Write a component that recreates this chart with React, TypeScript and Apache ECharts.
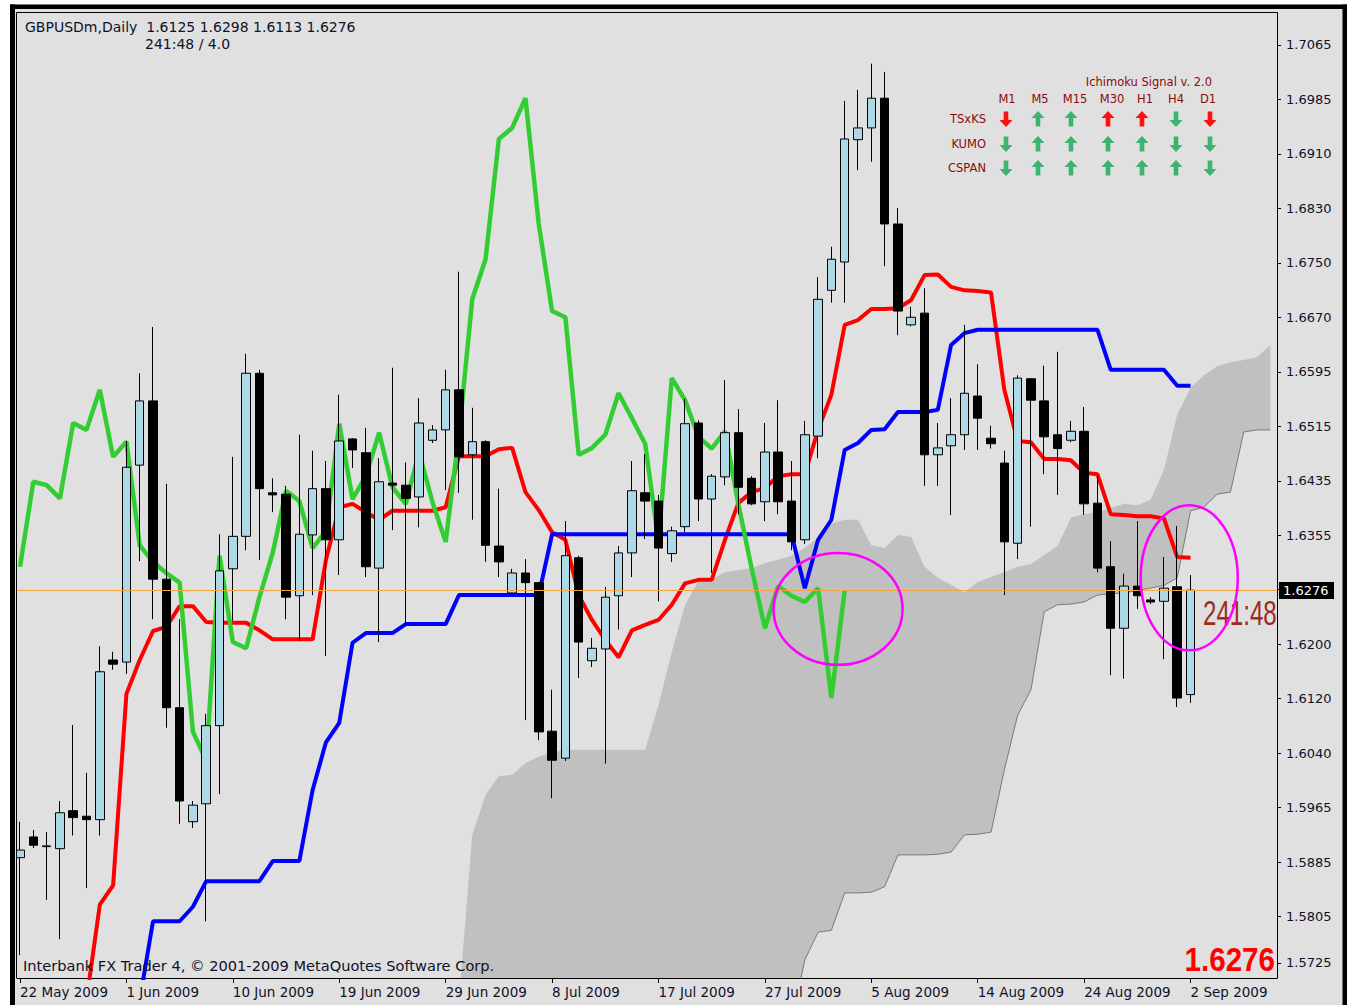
import React, { useEffect, useRef } from 'react';
import * as echarts from 'echarts';

const BAR_COUNT = 95; // 89 traded days + 6 projected cloud days

// Daily candles, 22 May 2009 .. 2 Sep 2009
const opens = [1.5889,1.5919,1.5906,1.5902,1.5957,1.5949,1.5944,1.6175,1.6172,1.6457,
1.6550,1.6292,1.6106,1.5941,1.5967,1.6080,1.6307,1.6354,1.6590,1.6417,
1.6415,1.6268,1.6356,1.6423,1.6349,1.6495,1.6475,1.6308,1.6431,1.6428,
1.6411,1.6493,1.6508,1.6566,1.6472,1.6491,1.6340,1.6272,1.6301,1.6287,
1.6072,1.6033,1.6323,1.6174,1.6191,1.6268,1.6330,1.6417,1.6405,1.6329,
1.6368,1.6518,1.6408,1.6440,1.6504,1.6438,1.6404,1.6476,1.6405,1.6349,
1.6499,1.6710,1.6751,1.6928,1.6945,1.6988,1.6806,1.6660,1.6677,1.6472,
1.6485,1.6501,1.6557,1.6496,1.6460,1.6344,1.6582,1.6550,1.6501,1.6493,
1.6506,1.6402,1.6310,1.6221,1.6282,1.6262,1.6260,1.6281,1.6125];
const highs = [1.5941,1.5929,1.5926,1.5971,1.6081,1.6012,1.6195,1.6187,1.6492,1.6590,
1.6657,1.6430,1.6234,1.5971,1.6097,1.6357,1.6469,1.6618,1.6595,1.6438,
1.6427,1.6501,1.6478,1.6463,1.6559,1.6496,1.6511,1.6467,1.6598,1.6461,
1.6554,1.6515,1.6595,1.6737,1.6540,1.6493,1.6423,1.6307,1.6321,1.6288,
1.6132,1.6376,1.6326,1.6207,1.6281,1.6340,1.6463,1.6473,1.6414,1.6368,
1.6553,1.6522,1.6444,1.6580,1.6538,1.6441,1.6518,1.6551,1.6463,1.6521,
1.6729,1.6773,1.6984,1.7000,1.7038,1.7026,1.6829,1.6686,1.6713,1.6518,
1.6554,1.6660,1.6603,1.6514,1.6478,1.6587,1.6583,1.6601,1.6621,1.6521,
1.6541,1.6441,1.6347,1.6300,1.6376,1.6266,1.6324,1.6369,1.6298];
const lows = [1.5748,1.5903,1.5828,1.5771,1.5921,1.5845,1.5921,1.6161,1.6155,1.6318,
1.6234,1.6077,1.5938,1.5932,1.5797,1.5981,1.6232,1.6334,1.6320,1.6389,
1.6234,1.6203,1.6269,1.6181,1.6298,1.6453,1.6295,1.6201,1.6363,1.6225,
1.6367,1.6489,1.6421,1.6417,1.6378,1.6317,1.6295,1.6271,1.6088,1.6059,
1.5975,1.6029,1.6149,1.6165,1.6025,1.6219,1.6295,1.6350,1.6260,1.6317,
1.6360,1.6376,1.6301,1.6428,1.6386,1.6399,1.6376,1.6386,1.6334,1.6343,
1.6467,1.6692,1.6692,1.6884,1.6896,1.6745,1.6645,1.6658,1.6427,1.6427,
1.6385,1.6479,1.6479,1.6481,1.6269,1.6321,1.6368,1.6444,1.6414,1.6490,
1.6385,1.6302,1.6153,1.6148,1.6249,1.6256,1.6176,1.6107,1.6113];
const closes = [1.5900,1.5907,1.5905,1.5954,1.5947,1.5944,1.6158,1.6169,1.6454,1.6550,
1.6292,1.6106,1.5971,1.5965,1.6080,1.6304,1.6354,1.6590,1.6423,1.6414,
1.6266,1.6357,1.6423,1.6349,1.6492,1.6479,1.6310,1.6433,1.6428,1.6409,
1.6518,1.6508,1.6566,1.6469,1.6491,1.6341,1.6317,1.6301,1.6287,1.6071,
1.6030,1.6326,1.6201,1.6192,1.6266,1.6330,1.6420,1.6405,1.6337,1.6362,
1.6517,1.6408,1.6441,1.6504,1.6425,1.6401,1.6476,1.6404,1.6346,1.6501,
1.6697,1.6755,1.6929,1.6945,1.6988,1.6806,1.6680,1.6671,1.6472,1.6482,
1.6501,1.6561,1.6525,1.6488,1.6346,1.6583,1.6551,1.6498,1.6481,1.6506,
1.6401,1.6308,1.6221,1.6282,1.6268,1.6259,1.6279,1.6120,1.6276];

// Tenkan-sen (red), starts at bar 5
const TENKAN_START = 5;
const tenkan = [1.5683,1.5821,1.5849,1.6126,1.6175,
1.6217,1.6223,1.6253,1.6253,1.6230,
1.6229,1.6229,1.6229,1.6218,1.6205,
1.6205,1.6205,1.6205,1.6320,1.6396,
1.6401,1.6389,1.6378,1.6391,1.6391,
1.6391,1.6391,1.6396,1.6470,1.6470,
1.6470,1.6480,1.6482,1.6418,1.6392,
1.6360,1.6349,1.6269,1.6233,1.6204,
1.6179,1.6218,1.6226,1.6233,1.6255,
1.6286,1.6291,1.6291,1.6349,1.6402,
1.6418,1.6424,1.6441,1.6444,1.6444,
1.6508,1.6559,1.6660,1.6667,1.6683,
1.6683,1.6684,1.6696,1.6732,1.6733,
1.6715,1.6710,1.6709,1.6707,1.6566,
1.6492,1.6490,1.6466,1.6466,1.6464,
1.6446,1.6444,1.6386,1.6385,1.6383,
1.6383,1.6380,1.6324,1.6323];

// Kijun-sen (blue), starts at bar 9
const KIJUN_START = 9;
const kijun = [1.5683,1.5797,1.5797,1.5797,1.5818,
1.5855,1.5855,1.5855,1.5855,1.5855,
1.5884,1.5884,1.5884,1.5987,1.6056,1.6084,1.6200,
1.6214,1.6214,1.6214,1.6227,1.6227,1.6227,1.6227,
1.6269,1.6269,1.6269,1.6269,1.6269,1.6269,1.6269,
1.6357,1.6357,1.6357,1.6357,1.6357,1.6357,1.6357,1.6357,1.6357,1.6357,
1.6357,1.6357,1.6357,1.6357,1.6357,1.6357,1.6357,1.6357,1.6357,
1.6279,1.6349,1.6378,1.6479,1.6489,1.6508,1.6509,
1.6534,1.6534,1.6534,1.6537,1.6631,1.6648,
1.6653,1.6653,1.6653,1.6653,1.6653,1.6653,1.6653,1.6653,1.6653,1.6653,
1.6595,1.6595,1.6595,1.6595,1.6595,1.6572,1.6572];

// Senkou spans (cloud), start at bar 33, run to bar 94
const KUMO_START = 33;
const senkouUpper = [1.5683,1.5922,1.5980,1.6007,1.6009,1.6026,1.6035,1.6042,
1.6045,1.6045,1.6045,1.6045,1.6045,1.6045,1.6045,
1.6110,1.6187,1.6255,1.6289,1.6292,1.6302,1.6305,1.6308,1.6315,1.6320,1.6326,
1.6337,1.6352,1.6373,1.6378,1.6378,1.6341,1.6337,1.6356,1.6353,
1.6310,1.6294,1.6284,1.6273,1.6288,1.6295,1.6302,1.6310,1.6314,1.6327,1.6340,
1.6381,1.6386,1.6389,1.6395,1.6401,1.6399,1.6407,1.6450,1.6530,1.6569,
1.6587,1.6600,1.6606,1.6609,1.6613,1.6631];
const senkouLower = [1.5650,1.5650,1.5650,1.5650,1.5650,1.5650,1.5650,1.5650,1.5650,1.5650,
1.5650,1.5650,1.5650,1.5650,1.5650,1.5650,1.5650,1.5650,1.5650,1.5650,
1.5650,1.5650,1.5650,1.5650,1.5650,1.5650,
1.5741,1.5781,1.5784,1.5838,1.5838,1.5839,1.5847,
1.5893,1.5893,1.5893,1.5894,1.5897,
1.5922,1.5923,1.5926,1.6016,1.6095,1.6132,
1.6245,1.6255,1.6256,1.6259,1.6269,1.6271,1.6272,1.6276,1.6279,1.6283,1.6294,
1.6391,1.6396,1.6415,1.6418,1.6505,1.6508,1.6508];

const CHIKOU_SHIFT = 26;
const lastPrice = 1.6276;

const dateLabelEvery = 8;
const yTickLabels = ['1.5725','1.5805','1.5885','1.5965','1.6040','1.6120','1.6200','','1.6355','1.6435','1.6515','1.6595','1.6670','1.6750','1.6830','1.6910','1.6985','1.7065'];
const yTickValues = [1.57366,1.58038,1.58826,1.59615,1.60403,1.61191,1.61979,1.62768,1.63556,1.64344,1.65132,1.65921,1.66709,1.67497,1.68285,1.69074,1.69862,1.70650];
const Y_MIN = 1.571487;
const Y_MAX = 1.711203;

const signalTimeframes = ['M1','M5','M15','M30','H1','H4','D1'];
const signalRows = ['TSxKS','KUMO','CSPAN'];
const signalDirections = [
  ['down','up','up','up','up','down','down'],
  ['down','up','up','up','up','down','down'],
  ['down','up','up','up','up','up','down'],
];
const signalColors = [
  ['red','green','green','red','red','green','red'],
  ['green','green','green','green','green','green','green'],
  ['green','green','green','green','green','green','green'],
];

const highlightRings = [
  { bar: 61.5, price: 1.6249, barRadius: 4.85, priceRadius: 0.0081 },
  { bar: 87.9, price: 1.6294, barRadius: 3.65, priceRadius: 0.0105 },
];

const MONTHS = ['Jan','Feb','Mar','Apr','May','Jun','Jul','Aug','Sep','Oct','Nov','Dec'];
function buildDates(): string[] {
  const out: string[] = [];
  const d = new Date(Date.UTC(2009, 4, 22));
  while (out.length < BAR_COUNT) {
    if (d.getUTCDay() !== 6) out.push(`${d.getUTCDate()} ${MONTHS[d.getUTCMonth()]} ${d.getUTCFullYear()}`);
    d.setUTCDate(d.getUTCDate() + 1);
  }
  return out;
}
const categories = buildDates();

function place(values: number[], start: number): (number | null)[] {
  const out: (number | null)[] = new Array(BAR_COUNT).fill(null);
  values.forEach((v, i) => { out[start + i] = v; });
  return out;
}

const FONT = 'DejaVu Sans';

function txt(text: string, x: number, y: number, size: number, fill: string, align = 'left', extra: any = {}) {
  return {
    type: 'text', z: 101, x, y, ...extra,
    style: { text, fontSize: size, fontFamily: FONT, fill, textAlign: align, align, textVerticalAlign: 'middle', verticalAlign: 'middle', ...(extra.style || {}) },
  };
}

function buildStaticGraphics(): any[] {
  const g: any[] = [];
  // window strips / frame
  g.push({ type: 'rect', z: 100, shape: { x: 0, y: 0, width: 1347, height: 4.5 }, style: { fill: '#ffffff' } });
  g.push({ type: 'rect', z: 100, shape: { x: 0, y: 0, width: 10, height: 1005 }, style: { fill: '#ffffff' } });
  g.push({ type: 'rect', z: 100, shape: { x: 10, y: 4.5, width: 1337, height: 4.5 }, style: { fill: '#000' } });
  g.push({ type: 'rect', z: 100, shape: { x: 10, y: 4.5, width: 5, height: 1001 }, style: { fill: '#000' } });
  g.push({ type: 'rect', z: 100, shape: { x: 1342.5, y: 4.5, width: 4.5, height: 1001 }, style: { fill: '#000' } });
  g.push({ type: 'rect', z: 99, shape: { x: 15, y: 9, width: 1.5, height: 996 }, style: { fill: '#e0e0e0' } });
  g.push({ type: 'line', z: 99, shape: { x1: 16.5, y1: 12.5, x2: 16.5, y2: 978 }, style: { stroke: '#000', lineWidth: 1 } });
  g.push({ type: 'line', z: 99, shape: { x1: 16.5, y1: 12.5, x2: 1277, y2: 12.5 }, style: { stroke: '#000', lineWidth: 1 } });

  g.push(txt('GBPUSDm,Daily  1.6125 1.6298 1.6113 1.6276', 25, 27, 14, '#10102a'));
  g.push(txt('241:48 / 4.0', 145, 44, 14, '#10102a'));
  g.push(txt('Interbank FX Trader 4, © 2001-2009 MetaQuotes Software Corp.', 23, 965, 14.6, '#10102a'));

  // Ichimoku signal panel
  const colX = [1007, 1040, 1075, 1112, 1145, 1176, 1208];
  const arrowX = [1006, 1038, 1071, 1108, 1142, 1176, 1210];
  const rowY = [119, 144, 168];
  const maroon = '#8b0a0a';
  g.push(txt('Ichimoku Signal v. 2.0', 1212, 82, 11.5, maroon, 'right'));
  signalTimeframes.forEach((t, i) => g.push(txt(t, colX[i], 99, 11.5, maroon, 'center')));
  signalRows.forEach((r, j) => g.push(txt(r, 986, rowY[j], 11.5, maroon, 'right')));
  const up = [[0,-8],[6.5,-1],[2.3,-1],[2.3,7.5],[-2.3,7.5],[-2.3,-1],[-6.5,-1]];
  signalRows.forEach((_, j) => {
    signalTimeframes.forEach((__, i) => {
      const dir = signalDirections[j][i];
      const pts = dir === 'up' ? up : up.map(([a, b]) => [a, -b]);
      g.push({
        type: 'polygon', z: 101, x: arrowX[i], y: rowY[j],
        shape: { points: pts },
        style: { fill: signalColors[j][i] === 'red' ? '#ff1010' : '#3cb371' },
      });
    });
  });

  g.push({
    type: 'text', z: 101, x: 1203, y: 612, scaleX: 0.67,
    style: { text: '241:48', fontSize: 36, fontFamily: 'Liberation Sans', fill: '#9e2a22', textAlign: 'left', align: 'left', textVerticalAlign: 'middle', verticalAlign: 'middle' },
  });
  g.push({
    type: 'text', z: 101, x: 1275, y: 959, scaleX: 0.87,
    style: { text: '1.6276', fontSize: 34, fontWeight: 'bold', fontFamily: 'Liberation Sans', fill: '#ff0000', textAlign: 'right', align: 'right', textVerticalAlign: 'middle', verticalAlign: 'middle' },
  });
  return g;
}

function buildOption(): any {
  const candleData = opens.map((o, i) => [o, closes[i], lows[i], highs[i]]);
  const chikou = place(closes.slice(CHIKOU_SHIFT), 0);
  const tenkanFull = place(tenkan, TENKAN_START);
  const kijunFull = place(kijun, KIJUN_START);
  const lowerFull = place(senkouLower, KUMO_START);
  const bandFull = place(senkouUpper.map((u, i) => u - senkouLower[i]), KUMO_START);
  const labelFor = (v: number) => {
    const k = yTickValues.findIndex((t) => Math.abs(t - v) < 1e-6);
    return k >= 0 ? yTickLabels[k] : '';
  };
  const every = (i: number) => i % dateLabelEvery === 0 && i < opens.length;
  return {
    animation: false,
    backgroundColor: '#e0e0e0',
    textStyle: { fontFamily: FONT },
    grid: { left: 13.36, right: 70, top: 12.5, bottom: 27, show: false },
    xAxis: {
      type: 'category',
      data: categories,
      boundaryGap: true,
      axisLine: { show: true, lineStyle: { color: '#000', width: 1 } },
      axisTick: { show: true, alignWithLabel: true, interval: every, length: 5, lineStyle: { color: '#000' } },
      axisLabel: { interval: every, align: 'left', margin: 7, fontSize: 13.5, color: '#10102a', fontFamily: FONT, hideOverlap: false },
      splitLine: { show: false },
    },
    yAxis: {
      type: 'value',
      position: 'right',
      min: Y_MIN,
      max: Y_MAX,
      axisLine: { show: true, lineStyle: { color: '#000', width: 1 } },
      axisTick: { show: true, length: 4, customValues: yTickValues, lineStyle: { color: '#000' } },
      axisLabel: { customValues: yTickValues, formatter: labelFor, margin: 9, fontSize: 13, color: '#10102a', fontFamily: FONT },
      splitLine: { show: false },
    },
    series: [
      {
        name: 'Senkou lower', type: 'line', data: lowerFull, stack: 'kumo', symbol: 'none', z: 2, silent: true,
        lineStyle: { color: '#7a7a7a', width: 1 },
      },
      {
        name: 'Kumo band', type: 'line', data: bandFull, stack: 'kumo', symbol: 'none', z: 1, silent: true,
        lineStyle: { width: 0, opacity: 0 }, areaStyle: { color: '#c0c0c0', opacity: 1 },
      },
      {
        name: 'Tenkan', type: 'line', data: tenkanFull, symbol: 'none', z: 3, silent: true,
        lineStyle: { color: '#ff0000', width: 4 },
      },
      {
        name: 'Kijun', type: 'line', data: kijunFull, symbol: 'none', z: 3, silent: true,
        lineStyle: { color: '#0000ff', width: 4 },
      },
      {
        name: 'Chikou', type: 'line', data: chikou, symbol: 'none', z: 3, silent: true,
        lineStyle: { color: '#32cd32', width: 4.5 },
      },
      {
        name: 'GBPUSD', type: 'candlestick', data: candleData, z: 4, barWidth: 9, silent: true,
        itemStyle: { color: '#add8e6', color0: '#000000', borderColor: '#000000', borderColor0: '#000000', borderWidth: 1 },
      },
    ],
  };
}

export default function App() {
  const ref = useRef<HTMLDivElement>(null);
  useEffect(() => {
    document.body.style.margin = '0';
    const chart = echarts.init(ref.current as HTMLDivElement, null, { renderer: 'svg' });
    chart.setOption(buildOption());
    const px = (bar: number, price: number) => {
      const i0 = Math.floor(bar);
      const f = bar - i0;
      const a = chart.convertToPixel({ xAxisIndex: 0, yAxisIndex: 0 }, [i0, price]) as number[];
      const b = chart.convertToPixel({ xAxisIndex: 0, yAxisIndex: 0 }, [i0 + 1, price]) as number[];
      return [a[0] + (b[0] - a[0]) * f, a[1]];
    };
    const rings = highlightRings.map((r) => {
      const c = px(r.bar, r.price);
      const left = px(r.bar - r.barRadius, r.price);
      const top = px(r.bar, r.price + r.priceRadius);
      return {
        type: 'ellipse', z: 102,
        shape: { cx: c[0], cy: c[1], rx: Math.abs(c[0] - left[0]), ry: Math.abs(c[1] - top[1]) },
        style: { fill: 'none', stroke: '#ff00ff', lineWidth: 2.5 },
      };
    });
    // Bid (last price) line and its axis box
    const py = Math.round(px(0, lastPrice)[1]) + 0.5;
    const bid = [
      { type: 'line', z: 98, shape: { x1: 17, y1: py, x2: 1277, y2: py }, style: { stroke: '#f5a33c', lineWidth: 1 } },
      { type: 'rect', z: 101, shape: { x: 1279, y: py - 8.5, width: 55, height: 17 }, style: { fill: '#000' } },
      txt(lastPrice.toFixed(4), 1283, py, 13, '#ffffff'),
    ];
    chart.setOption({ graphic: [...buildStaticGraphics(), ...bid, ...rings] });
    return () => chart.dispose();
  }, []);
  return <div ref={ref} style={{ position: 'absolute', left: 0, top: 0, width: 1347, height: 1005 }} />;
}
